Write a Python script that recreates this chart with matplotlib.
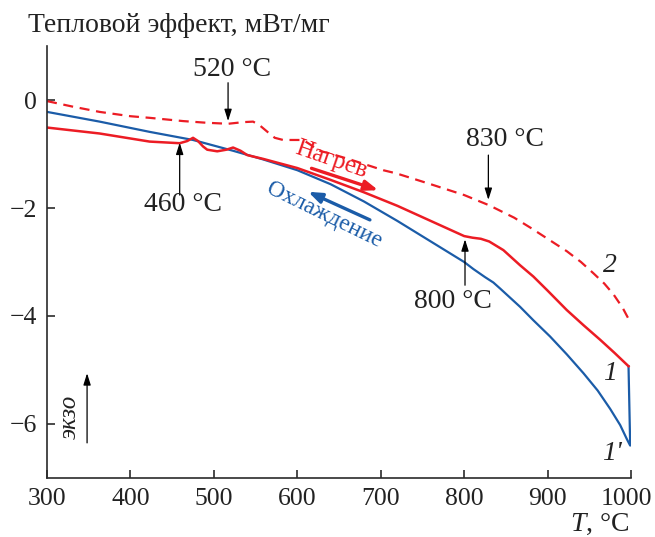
import numpy as np
import matplotlib
matplotlib.use("Agg")
import matplotlib.pyplot as plt
import matplotlib.transforms as mtransforms

plt.rcParams['font.family'] = ['Liberation Serif', 'DejaVu Serif']
plt.rcParams['mathtext.fontset'] = 'custom'
plt.rcParams['mathtext.rm'] = 'Liberation Serif'
plt.rcParams['mathtext.it'] = 'Liberation Serif:italic'

# curve 1 - heating (red solid)
t_heat = [300, 363, 423, 459, 468, 475, 481, 487, 492, 504, 515, 523, 532, 540,
          559, 600, 640, 680, 720, 760, 790, 800, 810, 820, 830, 847, 867, 883,
          900, 923, 943, 963, 980, 997]
q_heat = [-0.51, -0.62, -0.77, -0.80, -0.76, -0.70, -0.76, -0.86, -0.92, -0.95,
          -0.92, -0.88, -0.94, -1.02, -1.09, -1.26, -1.48, -1.71, -1.96, -2.24,
          -2.45, -2.52, -2.55, -2.57, -2.62, -2.78, -3.06, -3.27, -3.53, -3.89,
          -4.17, -4.44, -4.68, -4.93]

# curve 1' - cooling (blue)
t_cool = [997, 999, 995, 987, 975, 960, 943, 923, 903, 883, 867, 843, 835, 825,
          811, 800, 760, 720, 680, 640, 600, 559, 523, 475, 423, 363, 300]
q_cool = [-4.93, -6.40, -6.28, -6.02, -5.72, -5.38, -5.06, -4.71, -4.38, -4.08,
          -3.83, -3.49, -3.38, -3.28, -3.13, -3.00, -2.62, -2.24, -1.88, -1.56,
          -1.30, -1.10, -0.94, -0.74, -0.59, -0.40, -0.22]

# curve 2 - heating, second sample (red dashed)
t_heat2 = [300, 330, 363, 400, 423, 463, 490, 517, 535, 547, 555, 565, 573, 583,
           595, 607, 617, 624, 639, 663, 703, 719, 760, 800, 830, 860, 880, 900,
           923, 940, 955, 968, 979, 990, 1000]
q_heat2 = [-0.02, -0.12, -0.22, -0.30, -0.33, -0.39, -0.42, -0.44, -0.41, -0.40,
           -0.47, -0.60, -0.70, -0.74, -0.74, -0.74, -0.84, -0.93, -0.99, -1.10,
           -1.30, -1.36, -1.56, -1.76, -1.95, -2.18, -2.37, -2.57, -2.80, -3.00,
           -3.21, -3.40, -3.60, -3.85, -4.14]

red = '#ec1c24'
blue = '#1b5ca8'
dark = '#2b2b2b'
ink = '#222222'

fig = plt.figure(figsize=(6.55, 5.37), dpi=100)
ax = fig.add_axes([0.0718, 0.1099, 0.8916, 0.8044])

ax.plot(t_heat2, q_heat2, color=red, lw=1.6, dashes=(4.5, 3))
ax.plot(t_cool, q_cool, color=blue, lw=1.6)
ax.plot(t_heat, q_heat, color=red, lw=1.8)

ax.set_xlim(300, 1000)
ax.set_ylim(-7, 1)
ax.set_xticks(range(300, 1001, 100))
ax.set_yticks([-6, -4, -2, 0])
ax.spines['top'].set_visible(False)
ax.spines['right'].set_visible(False)
for s in ('left', 'bottom'):
    ax.spines[s].set_color(dark)
    ax.spines[s].set_linewidth(1.2)
ax.tick_params(direction='in', length=6, width=1.2, color=dark,
               labelsize=18.5, labelcolor=ink, pad=7)

# nudge "1000" so it stays inside the figure
last = ax.get_xticklabels()[-1]
last.set_transform(last.get_transform() +
                   mtransforms.ScaledTranslation(-5 / 100, 0, fig.dpi_scale_trans))

fs = 20
arrow_kw = dict(arrowstyle='-|>,head_length=0.7,head_width=0.22',
                color='black', lw=0.9, shrinkA=0, shrinkB=0)

# temperature marks
ax.annotate('', xy=(517, -0.39), xytext=(517, 0.32), arrowprops=arrow_kw)
ax.text(522, 0.56, '520 °C', fontsize=fs, ha='center', va='center', color=ink)
ax.annotate('', xy=(459, -0.79), xytext=(459, -1.76), arrowprops=arrow_kw)
ax.text(463, -1.94, '460 °C', fontsize=fs, ha='center', va='center', color=ink)
ax.annotate('', xy=(829, -1.85), xytext=(829, -1.02), arrowprops=arrow_kw)
ax.text(849, -0.74, '830 °C', fontsize=fs, ha='center', va='center', color=ink)
ax.annotate('', xy=(801, -2.58), xytext=(801, -3.43), arrowprops=arrow_kw)
ax.text(786, -3.74, '800 °C', fontsize=fs, ha='center', va='center', color=ink)

# direction labels
ax.text(641, -1.11, 'Нагрев', fontsize=18, color=red, rotation=-19,
        ha='center', va='center', rotation_mode='anchor')
ax.annotate('', xy=(697, -1.67), xytext=(617, -1.265),
            arrowprops=dict(arrowstyle='-|>,head_length=0.8,head_width=0.3',
                            color=red, lw=2.4, shrinkA=0, shrinkB=0))
ax.text(632, -2.13, 'Охлаждение', fontsize=17, color=blue, rotation=-26,
        ha='center', va='center', rotation_mode='anchor')
ax.annotate('', xy=(613, -1.70), xytext=(687, -2.22),
            arrowprops=dict(arrowstyle='-|>,head_length=0.8,head_width=0.3',
                            color=blue, lw=2.4, shrinkA=0, shrinkB=0))

# curve numbers
ax.text(975, -3.06, '2', fontsize=fs, style='italic', ha='center', va='center', color=ink)
ax.text(975, -5.06, '1', fontsize=fs, style='italic', ha='center', va='center', color=ink)
ax.text(977, -6.54, "1'", fontsize=fs, style='italic', ha='center', va='center', color=ink)

# exo arrow
ax.text(328, -5.87, 'экзо', fontsize=18, style='italic', rotation=90,
        ha='center', va='center', color=ink)
ax.annotate('', xy=(348, -5.06), xytext=(348, -6.35), arrowprops=arrow_kw)

fig.text(0.043, 0.940, 'Тепловой эффект, мВт/мг', fontsize=fs,
         va='baseline', ha='left', color=ink)
fig.text(0.916, 0.012, r'$T$, °C', fontsize=fs, va='baseline', ha='center',
         color=ink)

fig.savefig('out.png', dpi=100)
